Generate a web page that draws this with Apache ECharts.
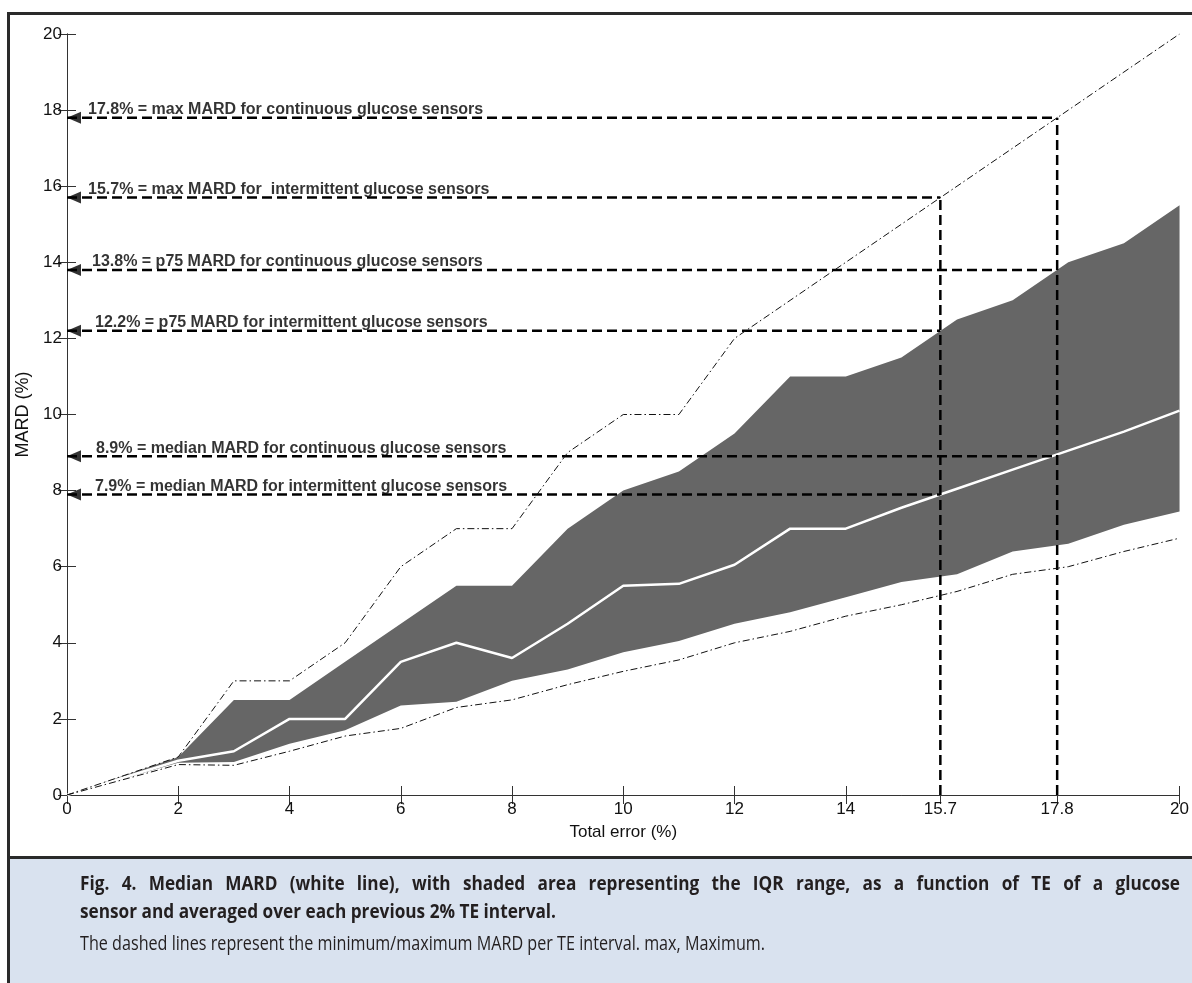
<!DOCTYPE html>
<html>
<head>
<meta charset="utf-8">
<script src="https://cdn.jsdelivr.net/npm/echarts@6/dist/echarts.min.js"></script>
<style>
  html, body { margin: 0; padding: 0; background: #fff; }
  #chart { width: 1192px; height: 983px; }
</style>
</head>
<body>
<div id="chart"></div>
<script>
// Total error (%) at which each TE interval is summarised
const totalError = [0, 2, 3, 4, 5, 6, 7, 8, 9, 10, 11, 12, 13, 14, 15, 16, 17, 18, 19, 20];
// MARD statistics (%) per TE interval
const mardMax    = [0, 1.0, 3.0, 3.0, 4.0, 6.0, 7.0, 7.0, 9.0, 10.0, 10.0, 12.0, 13.0, 14.0, 15.0, 16.0, 17.0, 18.0, 19.0, 20.0];
const mardP75    = [0, 1.0, 2.5, 2.5, 3.5, 4.5, 5.5, 5.5, 7.0, 8.0, 8.5, 9.5, 11.0, 11.0, 11.5, 12.5, 13.0, 14.0, 14.5, 15.5];
const mardMedian = [0, 0.9, 1.15, 2.0, 2.0, 3.5, 4.0, 3.6, 4.5, 5.5, 5.55, 6.05, 7.0, 7.0, 7.55, 8.05, 8.55, 9.05, 9.55, 10.1];
const mardP25    = [0, 0.85, 0.87, 1.35, 1.7, 2.35, 2.45, 3.0, 3.3, 3.75, 4.05, 4.5, 4.8, 5.2, 5.6, 5.8, 6.4, 6.6, 7.1, 7.45];
const mardMin    = [0, 0.8, 0.78, 1.15, 1.55, 1.75, 2.3, 2.5, 2.9, 3.25, 3.55, 4.0, 4.3, 4.7, 5.0, 5.35, 5.8, 6.0, 6.4, 6.75];

// Axis ticks
const xTicks = [0, 2, 4, 6, 8, 10, 12, 14, 15.7, 17.8, 20];

// Reference MARD levels and the TE at which each one is reached
const refMard   = [17.8, 15.7, 13.8, 12.2, 8.9, 7.9];
const refTE     = [17.8, 15.7, 17.8, 15.7, 17.8, 15.7];
const refLabels = [
  '17.8% = max MARD for continuous glucose sensors',
  '15.7% = max MARD for  intermittent glucose sensors',
  '13.8% = p75 MARD for continuous glucose sensors',
  '12.2% = p75 MARD for intermittent glucose sensors',
  '8.9% = median MARD for continuous glucose sensors',
  '7.9% = median MARD for intermittent glucose sensors'
];
// Vertical guides: TE thresholds
const teThresholds = [15.7, 17.8];

// Figure caption
const captionTitle = 'Fig. 4.  Median MARD (white line), with shaded area representing the IQR range, as a function of TE of a glucose';
const captionTitle2 = 'sensor and averaged over each previous 2% TE interval.';
const captionNote = 'The dashed lines represent the minimum/maximum MARD per TE interval. max, Maximum.';

const axisFont = { fontFamily: 'Liberation Sans, Arial, sans-serif', fontSize: 17, color: '#111' };
const frameColor = '#333';
const dashDot = [7, 3, 1.5, 3];
const refDash = [10, 5];
const captionColor = '#231f20';
const captionSize = 20;
// Indent (px) of each reference annotation after its arrowhead
const refLabelIndent = [0, 0, 4, 7, 8, 7];

const chart = echarts.init(document.getElementById('chart'), null, { renderer: 'canvas' });

// Caption typesetting: a condensed look obtained by horizontally scaling the text
const measureCtx = document.createElement('canvas').getContext('2d');
function textWidth(text, weight, size) {
  measureCtx.font = weight + ' ' + size + 'px "Open Sans"';
  return measureCtx.measureText(text).width;
}
function captionText(text, weight, x, y, scale) {
  return {
    type: 'text', x: x, y: y, scaleX: scale, scaleY: 1,
    style: { text: text, fontFamily: 'Open Sans', fontWeight: weight, fontSize: captionSize, fill: captionColor }
  };
}
const boldScale = 476 / textWidth(captionTitle2, 'bold', captionSize);
const noteScale = 685 / textWidth(captionNote, 'normal', captionSize);

// Justified first caption line: spread the words across the caption width
function justifiedLine(text, left, right, top, scale) {
  const words = text.split(/\s+/);
  const widths = words.map(w => textWidth(w, 'bold', captionSize) * scale);
  const total = widths.reduce((a, b) => a + b, 0);
  const gap = (right - left - total) / (words.length - 1);
  let x = left;
  return words.map((w, i) => {
    const el = captionText(w, 'bold', x, top, scale);
    x += widths[i] + gap;
    return el;
  });
}

const refLineSeries = refMard.map((v, i) => ({
  type: 'line',
  data: [[0, v], [refTE[i], v]],
  symbol: 'none',
  lineStyle: { color: '#000', width: 2.5, type: refDash },
  z: 4,
  silent: true
}));
const thresholdSeries = teThresholds.map(t => ({
  type: 'line',
  data: [[t, 0], [t, t]],
  symbol: 'none',
  lineStyle: { color: '#000', width: 2.5, type: refDash },
  z: 4,
  silent: true
}));

const option = {
  animation: false,
  backgroundColor: '#fff',
  grid: { left: 67, right: 10, top: 34, bottom: 188, containLabel: false },
  xAxis: [
    {
      type: 'value', min: 0, max: 20, position: 'bottom',
      name: 'Total error (%)', nameLocation: 'middle', nameGap: 29,
      nameTextStyle: axisFont,
      axisLine: { show: true, lineStyle: { color: frameColor, width: 1 } },
      axisTick: { show: true, inside: true, length: 9, customValues: xTicks, lineStyle: { color: frameColor } },
      axisLabel: { customValues: xTicks, margin: 6, ...axisFont },
      splitLine: { show: false }
    },
    {
      type: 'value', min: 0, max: 20, position: 'top',
      axisLine: { show: true, lineStyle: { color: frameColor, width: 1 } },
      axisTick: { show: true, inside: true, length: 9, customValues: xTicks, lineStyle: { color: frameColor } },
      axisLabel: { show: false },
      splitLine: { show: false }
    }
  ],
  yAxis: [
    {
      type: 'value', min: 0, max: 20, interval: 2, position: 'left',
      name: 'MARD (%)', nameLocation: 'middle', nameGap: 26, nameRotate: 90,
      nameTextStyle: { ...axisFont, fontSize: 18 },
      axisLine: { show: true, lineStyle: { color: frameColor, width: 1 } },
      axisTick: { show: true, inside: true, length: 9, lineStyle: { color: frameColor } },
      axisLabel: { margin: 5, ...axisFont },
      splitLine: { show: false }
    },
    {
      type: 'value', min: 0, max: 20, interval: 2, position: 'right',
      axisLine: { show: true, lineStyle: { color: frameColor, width: 1 } },
      axisTick: { show: true, inside: true, length: 9, lineStyle: { color: frameColor } },
      axisLabel: { show: false },
      splitLine: { show: false }
    }
  ],
  series: [
    // IQR band
    {
      type: 'custom',
      data: totalError.map((x, i) => [x, mardP25[i], mardP75[i]]),
      encode: { x: 0, y: [1, 2] },
      z: 1,
      silent: true,
      renderItem: function (params, api) {
        if (params.dataIndex !== 0) return null;
        const pts = [];
        for (let i = 0; i < totalError.length; i++) pts.push(api.coord([totalError[i], mardP75[i]]));
        for (let i = totalError.length - 1; i >= 0; i--) pts.push(api.coord([totalError[i], mardP25[i]]));
        return { type: 'polygon', shape: { points: pts }, style: { fill: '#666666' } };
      }
    },
    // Median
    {
      type: 'line', data: totalError.map((x, i) => [x, mardMedian[i]]),
      symbol: 'none', lineStyle: { color: '#fff', width: 2.5 }, z: 3, silent: true
    },
    // Maximum / minimum
    {
      type: 'line', data: totalError.map((x, i) => [x, mardMax[i]]),
      symbol: 'none', lineStyle: { color: '#111', width: 1, type: dashDot }, z: 5, silent: true
    },
    {
      type: 'line', data: totalError.map((x, i) => [x, mardMin[i]]),
      symbol: 'none', lineStyle: { color: '#111', width: 1, type: dashDot }, z: 5, silent: true
    },
    ...refLineSeries,
    ...thresholdSeries,
    // Arrowheads and reference labels
    {
      type: 'scatter',
      data: refMard.map((v, i) => ({
        value: [0, v],
        label: { offset: [refLabelIndent[i], -8] }
      })),
      symbol: 'path://M0 5L12 0L12 10Z',
      symbolSize: [14, 12],
      symbolOffset: [7, 0],
      itemStyle: { color: '#000' },
      z: 6,
      silent: true,
      label: {
        show: true,
        position: 'right',
        distance: 7,
        offset: [0, -8],
        formatter: p => refLabels[p.dataIndex],
        fontFamily: 'Liberation Sans, Arial, sans-serif',
        fontWeight: 'bold',
        fontSize: 16,
        color: '#000'
      }
    }
  ],
  graphic: [
    { type: 'rect', shape: { x: 8, y: 858, width: 1184, height: 125 }, style: { fill: '#d9e2ef' }, z: -1 },
    { type: 'line', shape: { x1: 7, y1: 13.5, x2: 1192, y2: 13.5 }, style: { stroke: '#2a2a2a', lineWidth: 3 } },
    { type: 'line', shape: { x1: 8.5, y1: 12, x2: 8.5, y2: 983 }, style: { stroke: '#2a2a2a', lineWidth: 3 } },
    { type: 'line', shape: { x1: 7, y1: 857.5, x2: 1192, y2: 857.5 }, style: { stroke: '#2a2a2a', lineWidth: 3 } },
    ...justifiedLine(captionTitle, 80, 1180, 874, boldScale),
    captionText(captionTitle2, 'bold', 80, 902, boldScale),
    captionText(captionNote, 'normal', 80, 934, noteScale)
  ]
};

chart.setOption(option);
</script>
</body>
</html>
